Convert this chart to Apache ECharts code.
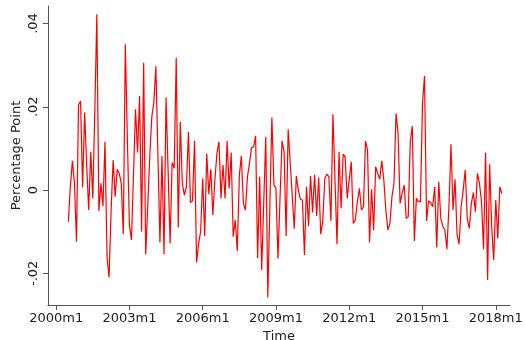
<!DOCTYPE html>
<html>
<head>
<meta charset="utf-8">
<script src="https://cdn.jsdelivr.net/npm/echarts@6/dist/echarts.min.js"></script>
<style>
  html, body { margin: 0; padding: 0; background: #fff; }
  #chart { width: 525px; height: 340px; }
</style>
</head>
<body>
<div id="chart"></div>
<script>
// Monthly series, first observation 2000m7 (months counted from 2000m1)
const startYear = 2000;
const firstMonthIndex = 6;
const values = [
  -0.0076, 0.0010, 0.0070, 0.0016, -0.0124, 0.0204, 0.0214, 0.0006, 0.0186, 0.0060,
  -0.0048, 0.0092, -0.0020, 0.0190, 0.0422, -0.0050, 0.0016, -0.0038, 0.0116, -0.0160,
  -0.0210, -0.0050, 0.0072, -0.0016, 0.0050, 0.0040, 0.0016, -0.0106, 0.0350, 0.0120,
  -0.0084, -0.0120, 0.0035, 0.0194, 0.0090, 0.0226, -0.0100, 0.0306, -0.0154, -0.0040,
  0.0080, 0.0175, 0.0210, 0.0297, 0.0085, -0.0126, 0.0082, -0.0154, 0.0222, 0.0048,
  -0.0128, 0.0066, 0.0052, 0.0318, -0.0090, 0.0164, 0.0016, -0.0012, 0.0008, 0.0140,
  -0.0030, -0.0026, 0.0118, -0.0174, -0.0128, -0.0100, 0.0028, -0.0110, 0.0088, -0.0010,
  0.0050, -0.0060, 0.0024, 0.0088, 0.0116, -0.0020, 0.0060, -0.0020, 0.0118, 0.0004,
  0.0090, -0.0112, -0.0072, -0.0146, 0.0034, 0.0082, -0.0032, -0.0048, 0.0032, 0.0064,
  0.0102, 0.0104, 0.0130, -0.0164, 0.0032, -0.0192, -0.0030, 0.0128, -0.0258, -0.0040,
  0.0174, 0.0012, 0.0004, -0.0164, -0.0020, 0.0118, 0.0092, -0.0110, 0.0146, 0.0066,
  -0.0013, -0.0093, 0.0034, 0.0000, -0.0022, -0.0024, -0.0156, 0.0008, -0.0086, 0.0034,
  -0.0054, 0.0037, -0.0062, 0.0030, -0.0106, -0.0076, 0.0028, 0.0038, 0.0032, -0.0074,
  0.0182, 0.0026, -0.0130, 0.0092, -0.0044, 0.0086, 0.0080, -0.0020, 0.0024, 0.0068,
  -0.0080, -0.0072, -0.0028, 0.0004, -0.0048, -0.0040, 0.0118, 0.0096, -0.0126, 0.0002,
  -0.0096, 0.0056, 0.0040, 0.0026, 0.0070, 0.0024, -0.0048, -0.0096, -0.0080, -0.0016,
  0.0016, 0.0184, 0.0136, -0.0032, -0.0008, 0.0012, -0.0068, -0.0064, 0.0116, 0.0154,
  -0.0122, -0.0020, -0.0028, -0.0028, 0.0208, 0.0274, -0.0074, -0.0026, -0.0030, -0.0040,
  0.0008, -0.0138, 0.0020, -0.0068, -0.0088, -0.0096, -0.0142, -0.0040, 0.0110, -0.0048,
  0.0026, -0.0108, -0.0130, -0.0040, 0.0000, 0.0048, -0.0068, -0.0092, -0.0032, -0.0006,
  -0.0052, 0.0040, 0.0016, -0.0028, -0.0142, 0.0090, -0.0216, 0.0062, -0.0088, -0.0168,
  -0.0024, -0.0116, 0.0008, -0.0008
];

// Axis ticks
const xTickMonths = [0, 36, 72, 108, 144, 180, 216];
const yTickValues = [-0.02, 0, 0.02, 0.04];
const yTickLabels = ['-.02', '0', '.02', '.04'];

const seriesData = values.map((v, i) => [firstMonthIndex + i, v]);

function monthLabel(m) {
  const y = startYear + Math.floor(m / 12);
  return y + 'm' + ((m % 12) + 1);
}

const axisColor = '#555';
const textColor = '#222';
const fontFamily = 'DejaVu Sans';

const chart = echarts.init(document.getElementById('chart'), null, { renderer: 'canvas' });
chart.setOption({
  animation: false,
  backgroundColor: '#fff',
  grid: { left: 48, right: 15, top: 6, bottom: 35, containLabel: false, outerBoundsMode: 'none' },
  xAxis: {
    type: 'value',
    min: -4,
    max: 223,
    name: 'Time',
    nameLocation: 'middle',
    nameGap: 22,
    nameTextStyle: { fontFamily, fontSize: 13, color: textColor },
    splitLine: { show: false },
    axisLine: { show: true, onZero: false, lineStyle: { color: axisColor, width: 1 } },
    axisTick: { show: true, length: 5, customValues: xTickMonths, lineStyle: { color: axisColor } },
    axisLabel: {
      customValues: xTickMonths,
      formatter: v => monthLabel(v),
      fontFamily, fontSize: 13, color: textColor, margin: 7
    }
  },
  yAxis: {
    type: 'value',
    min: -0.0276,
    max: 0.0442,
    name: 'Percentage Point',
    nameLocation: 'middle',
    nameGap: 25,
    nameMoveOverlap: false,
    nameTextStyle: { fontFamily, fontSize: 13, color: textColor },
    splitLine: { show: false },
    axisLine: { show: true, onZero: false, lineStyle: { color: axisColor, width: 1 } },
    axisTick: { show: true, length: 5, customValues: yTickValues, lineStyle: { color: axisColor } },
    axisLabel: {
      customValues: yTickValues,
      rotate: 90,
      formatter: v => {
        const i = yTickValues.findIndex(t => Math.abs(t - v) < 1e-9);
        return i >= 0 ? yTickLabels[i] : '';
      },
      fontFamily, fontSize: 13, color: textColor, margin: 8
    }
  },
  series: [{
    type: 'line',
    data: seriesData,
    symbol: 'none',
    lineStyle: { color: '#ff0000', width: 1.2 },
    itemStyle: { color: '#ff0000' }
  }]
});
</script>
</body>
</html>
